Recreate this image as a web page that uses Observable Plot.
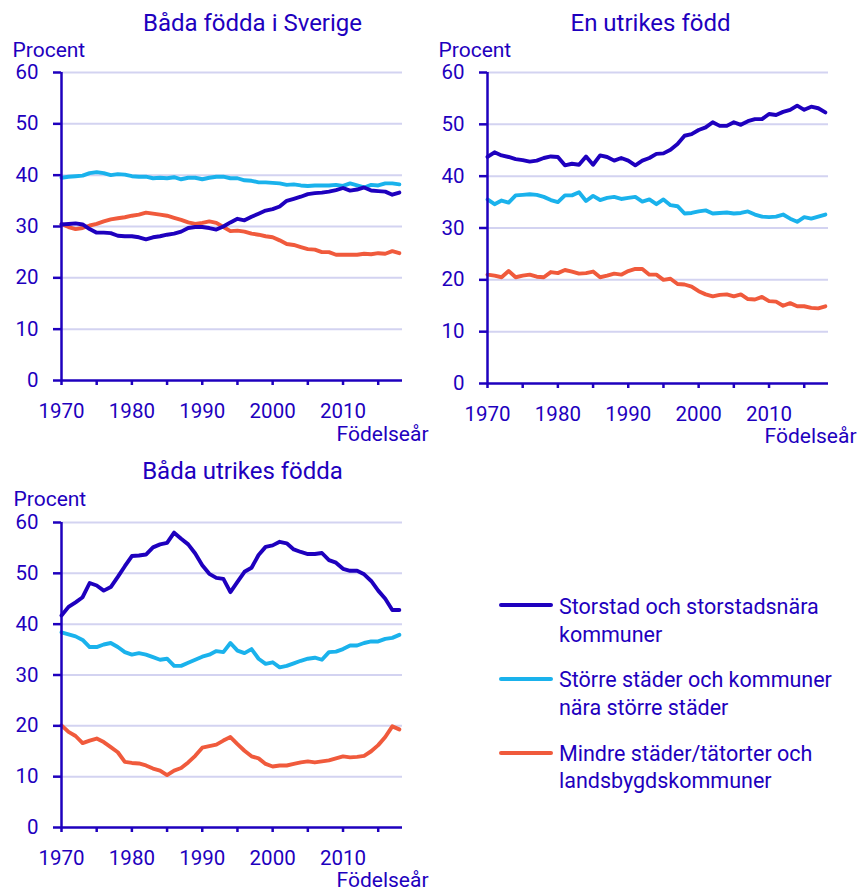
<!DOCTYPE html>
<html><head><meta charset="utf-8">
<script src="https://cdn.jsdelivr.net/npm/d3@7"></script>
<script src="https://cdn.jsdelivr.net/npm/@observablehq/plot@0.6"></script>
<style>
body{margin:0;background:#fff;}
#wrap{position:relative;width:858px;height:892px;font-family:Roboto,sans-serif;color:#1e00be;overflow:hidden;}
.panel{position:absolute;}
.leg{position:absolute;left:559px;font-size:21.5px;line-height:27.7px;white-space:nowrap;color:#1e00be;}
.sw{position:absolute;left:499px;width:54px;height:4px;border-radius:2px;}
</style></head><body><div id="wrap"></div>
<script>
const years = [1970,1971,1972,1973,1974,1975,1976,1977,1978,1979,1980,1981,1982,1983,1984,1985,1986,1987,1988,1989,1990,1991,1992,1993,1994,1995,1996,1997,1998,1999,2000,2001,2002,2003,2004,2005,2006,2007,2008,2009,2010,2011,2012,2013,2014,2015,2016,2017,2018];
const seriesNames = ["Storstad och storstadsnära kommuner","Större städer och kommuner nära större städer","Mindre städer/tätorter och landsbygdskommuner"];
const legendLines = [["Storstad och storstadsnära","kommuner"],["Större städer och kommuner","nära större städer"],["Mindre städer/tätorter och","landsbygdskommuner"]];
const panelTitles = ["Båda födda i Sverige","En utrikes född","Båda utrikes födda"];
const yTicks = [0,10,20,30,40,50,60];
const xTicks = [1970,1975,1980,1985,1990,1995,2000,2005,2010,2015];
const yLabel = "Procent";
const xLabel = "Födelseår";

// Båda födda i Sverige
const sverigeStorstad = [30.4,30.5,30.6,30.4,29.5,28.8,28.8,28.7,28.2,28.1, 28.1,27.9,27.5,27.9,28.1,28.4,28.6,29.0,29.7,29.9, 29.9,29.7,29.4,30.0,30.8,31.5,31.2,31.9,32.5,33.1, 33.4,33.9,35.0,35.4,35.8,36.3,36.5,36.6,36.8,37.1, 37.5,37.0,37.2,37.6,37.0,36.9,36.8,36.2,36.6];
const sverigeStorre = [39.5,39.7,39.8,39.9,40.4,40.6,40.4,40.0,40.2,40.1, 39.8,39.7,39.7,39.4,39.5,39.4,39.6,39.2,39.5,39.5, 39.2,39.5,39.7,39.7,39.4,39.4,39.0,38.9,38.6,38.6, 38.5,38.4,38.1,38.2,38.0,37.9,38.0,38.0,38.0,38.1, 37.9,38.4,38.0,37.6,38.1,38.0,38.4,38.4,38.2];
const sverigeMindre = [30.5,29.9,29.5,29.7,30.2,30.5,31.0,31.4,31.6,31.8, 32.1,32.3,32.7,32.5,32.3,32.1,31.7,31.3,30.8,30.5, 30.7,31.0,30.7,29.9,29.1,29.2,29.0,28.6,28.4,28.1, 27.9,27.3,26.6,26.4,26.0,25.6,25.5,25.0,25.0,24.5, 24.5,24.5,24.5,24.7,24.6,24.8,24.7,25.2,24.8];
// En utrikes född
const enStorstad = [43.7,44.6,44.0,43.7,43.3,43.1,42.8,43.0,43.5,43.8, 43.7,42.1,42.4,42.2,43.8,42.2,44.0,43.7,43.0,43.5, 43.0,42.1,43.0,43.5,44.3,44.4,45.1,46.2,47.8,48.1, 48.9,49.4,50.4,49.7,49.7,50.4,49.9,50.6,51.0,51.0, 52.0,51.8,52.4,52.8,53.6,52.8,53.4,53.1,52.3];
const enStorre = [35.5,34.6,35.3,34.9,36.3,36.4,36.5,36.4,36.0,35.4, 35.0,36.3,36.3,36.9,35.2,36.2,35.4,35.8,36.0,35.6, 35.8,36.0,35.1,35.5,34.6,35.5,34.4,34.2,32.8,32.9, 33.2,33.4,32.8,32.9,33.0,32.8,32.9,33.2,32.6,32.2, 32.1,32.2,32.6,31.8,31.2,32.1,31.8,32.2,32.6];
const enMindre = [21.0,20.8,20.5,21.7,20.5,20.8,21.0,20.6,20.5,21.5, 21.3,21.9,21.6,21.2,21.3,21.6,20.5,20.8,21.2,21.0, 21.7,22.1,22.1,21.0,21.0,20.0,20.2,19.2,19.1,18.7, 17.8,17.2,16.8,17.1,17.2,16.8,17.2,16.3,16.2,16.7, 15.9,15.8,15.0,15.5,14.9,14.9,14.6,14.5,14.9];
// Båda utrikes födda
const utStorstad = [41.7,43.4,44.3,45.3,48.1,47.6,46.6,47.3,49.3,51.4, 53.4,53.5,53.7,55.1,55.7,56.0,58.0,56.8,55.7,53.9, 51.6,49.9,49.1,48.9,46.3,48.3,50.3,51.1,53.6,55.2, 55.5,56.2,55.9,54.7,54.2,53.8,53.8,54.0,52.6,52.1, 50.9,50.5,50.5,49.8,48.5,46.6,45.0,42.8,42.8];
const utStorre = [38.4,38.0,37.6,36.9,35.5,35.5,36.0,36.3,35.5,34.5, 34.0,34.3,34.0,33.5,33.0,33.2,31.8,31.8,32.4,33.0, 33.6,34.0,34.7,34.5,36.3,34.8,34.3,35.1,33.2,32.2, 32.5,31.5,31.8,32.3,32.8,33.2,33.4,33.0,34.5,34.6, 35.1,35.8,35.8,36.3,36.6,36.6,37.1,37.3,37.9];
const utMindre = [20.1,18.8,18.0,16.6,17.1,17.5,16.8,15.8,14.8,12.9, 12.7,12.6,12.2,11.6,11.2,10.3,11.2,11.7,12.8,14.1, 15.7,16.0,16.3,17.1,17.8,16.4,15.1,14.0,13.6,12.5, 12.0,12.2,12.2,12.5,12.8,13.0,12.8,13.0,13.2,13.6, 14.0,13.8,13.9,14.1,15.0,16.2,17.8,19.9,19.3];

const colors = ["#1e00be","#1ab2ec","#f05a3c"];
const TXT = "#1e00be";
const GRID = "#d3d3f1";

function rows(values){ return years.map((y,i)=>({year:y, value:values[i]})); }

function makePanel(cfg){
  const {title, series, left, top, width, height, ml, mr, mt, mb, tX, tY, pX, pY, fX, fY} = cfg;
  const lbl = (text, X, Y, anchor, size) => Plot.text([text], {text: d=>d, frameAnchor:"top-left", dx: X-ml, dy: Y-mt, textAnchor: anchor, lineAnchor:"middle", fontSize:size, fill:TXT});
  const marks = [
    Plot.ruleY(yTicks.filter(d=>d>0), {stroke: GRID, strokeWidth: 2}),
    Plot.lineY(rows(series[2]), {x:"year", y:"value", stroke: colors[2], strokeWidth: 3.9}),
    Plot.lineY(rows(series[1]), {x:"year", y:"value", stroke: colors[1], strokeWidth: 3.9}),
    Plot.lineY(rows(series[0]), {x:"year", y:"value", stroke: colors[0], strokeWidth: 3.9}),
    Plot.ruleX([1970], {stroke: TXT, strokeWidth: 2.5}),
    Plot.ruleY([0], {stroke: TXT, strokeWidth: 2.5}),
    Plot.axisY({ticks: yTicks, tickSize: 8, tickPadding: 15, fontSize: 20.5, label: null, stroke: TXT, fill: TXT, strokeWidth: 2.5}),
    Plot.axisX({ticks: xTicks, tickSize: 5, tickPadding: 18, fontSize: 20.5, label: null, stroke: TXT, fill: TXT, strokeWidth: 2.5, tickFormat: d => d % 10 === 0 ? String(d) : ""}),
    lbl(title, tX, tY, "middle", 24),
    lbl(yLabel, pX, pY, "start", 21),
    lbl(xLabel, fX, fY, "end", 21)
  ];
  const svg = Plot.plot({
    width, height, marginLeft: ml, marginRight: mr, marginTop: mt, marginBottom: mb,
    x: {domain: [1970, 2018.45]},
    y: {domain: [0, 60]},
    style: {fontFamily: "Roboto, sans-serif", fontSize: "20px", color: TXT, background: "transparent", overflow: "visible"},
    marks
  });
  svg.classList.add("panel");
  svg.style.left = left + "px";
  svg.style.top = top + "px";
  svg.style.position = "absolute";
  return svg;
}

const wrap = document.getElementById("wrap");
wrap.appendChild(makePanel({title: panelTitles[0], series:[sverigeStorstad, sverigeStorre, sverigeMindre],
  left:0, top:0, width:430, height:445, ml:61, mr:28, mt:72, mb:65,
  tX:252, tY:23, pX:12, pY:50, fX:428, fY:434}));
wrap.appendChild(makePanel({title: panelTitles[1], series:[enStorstad, enStorre, enMindre],
  left:430, top:0, width:428, height:445, ml:57, mr:30, mt:72, mb:62,
  tX:220, tY:23, pX:8, pY:50, fX:426, fY:436}));
wrap.appendChild(makePanel({title: panelTitles[2], series:[utStorstad, utStorre, utMindre],
  left:0, top:450, width:430, height:442, ml:61, mr:28, mt:72, mb:65,
  tX:242, tY:21, pX:13, pY:49, fX:428, fY:430}));

const legTops = [593, 666.4, 739.7];
const swY = [605, 679, 753];
legendLines.forEach((lines, i) => {
  const sw = document.createElement("div");
  sw.className = "sw";
  sw.style.top = (swY[i]-2) + "px";
  sw.style.background = colors[i];
  sw.title = seriesNames[i];
  wrap.appendChild(sw);
  const t = document.createElement("div");
  t.className = "leg";
  t.style.top = legTops[i] + "px";
  t.innerHTML = lines.join("<br>");
  wrap.appendChild(t);
});
</script></body></html>
